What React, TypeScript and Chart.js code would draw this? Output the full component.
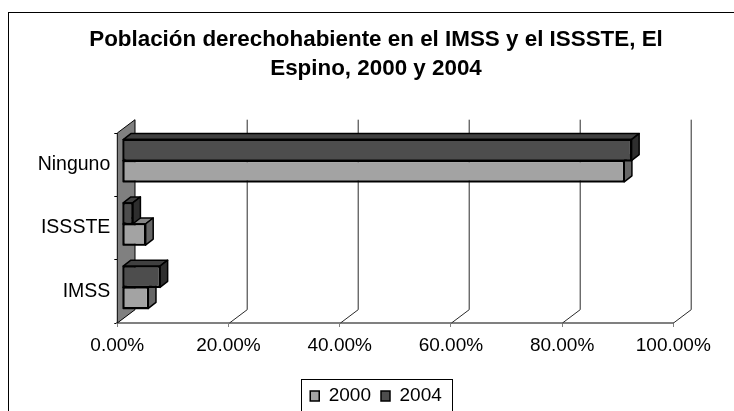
import React, { useEffect, useRef } from 'react';
import { Chart, registerables } from 'chart.js';

Chart.register(...registerables);

// ---- data ----
const categories = ['Ninguno', 'ISSSTE', 'IMSS'];
const seriesNames = ['2000', '2004'];
const values2000 = [0.902, 0.041, 0.046];
const values2004 = [0.915, 0.018, 0.067];
const xTickLabels = ['0.00%', '20.00%', '40.00%', '60.00%', '80.00%', '100.00%'];
const titleLines = ['Población derechohabiente en el IMSS y el ISSSTE, El', 'Espino, 2000 y 2004'];

const FONT = '"Liberation Sans", Arial, Helvetica, sans-serif';

// 3D look parameters (styling only)
const DEPTH_X = 17.7;
const DEPTH_Y = -13.3;
const BAR_SHIFT_X = 5.4;
const BAR_SHIFT_Y = -4;
const BAR_DX = 7.7;
const BAR_DY = -6;

const faceColors: Record<string, { top: string; side: string }> = {
  '2000': { top: '#858585', side: '#666666' },
  '2004': { top: '#404040', side: '#2e2e2e' },
};

const frame3d = {
  id: 'frame3d',
  beforeDraw(chart: any) {
    const { ctx, width, height } = chart;
    ctx.save();
    ctx.fillStyle = '#ffffff';
    ctx.fillRect(0, 0, width, height);
    ctx.strokeStyle = '#000000';
    ctx.lineWidth = 1;
    ctx.strokeRect(8.5, 12.5, width + 50, height + 50);
    ctx.restore();
  },
  beforeDatasetsDraw(chart: any) {
    const { ctx } = chart;
    const { left: L, top: T, bottom: B } = chart.chartArea;
    const xs = chart.scales.x;
    ctx.save();
    // side wall
    ctx.beginPath();
    ctx.moveTo(L, T);
    ctx.lineTo(L + DEPTH_X, T + DEPTH_Y);
    ctx.lineTo(L + DEPTH_X, B + DEPTH_Y);
    ctx.lineTo(L, B);
    ctx.closePath();
    ctx.fillStyle = '#808080';
    ctx.fill();
    ctx.strokeStyle = '#000000';
    ctx.lineWidth = 1;
    ctx.stroke();
    // grid lines on back wall and floor
    ctx.beginPath();
    xs.ticks.forEach((t: any) => {
      if (t.value <= 0) return;
      const x = Math.round(xs.getPixelForValue(t.value)) + 0.5;
      ctx.moveTo(x + DEPTH_X, T + DEPTH_Y);
      ctx.lineTo(x + DEPTH_X, B + DEPTH_Y);
      ctx.lineTo(x, B);
    });
    ctx.strokeStyle = '#2a2a2a';
    ctx.lineWidth = 1;
    ctx.stroke();
    ctx.restore();
    ctx.save();
    ctx.translate(BAR_SHIFT_X, BAR_SHIFT_Y);
  },
  afterDatasetDraw(chart: any, args: any) {
    const { ctx } = chart;
    const ds = chart.data.datasets[args.index];
    const fc = faceColors[ds.label];
    ctx.save();
    ctx.lineWidth = 1.5;
    ctx.lineJoin = 'round';
    ctx.strokeStyle = '#000000';
    args.meta.data.forEach((el: any) => {
      const p = el.getProps(['x', 'y', 'base', 'height'], true);
      const l = Math.min(p.x, p.base);
      const r = Math.max(p.x, p.base);
      const t = p.y - p.height / 2;
      const b = p.y + p.height / 2;
      // top face
      ctx.beginPath();
      ctx.moveTo(l, t);
      ctx.lineTo(l + BAR_DX, t + BAR_DY);
      ctx.lineTo(r + BAR_DX, t + BAR_DY);
      ctx.lineTo(r, t);
      ctx.closePath();
      ctx.fillStyle = fc.top;
      ctx.fill();
      ctx.stroke();
      // side face
      ctx.beginPath();
      ctx.moveTo(r, t);
      ctx.lineTo(r + BAR_DX, t + BAR_DY);
      ctx.lineTo(r + BAR_DX, b + BAR_DY);
      ctx.lineTo(r, b);
      ctx.closePath();
      ctx.fillStyle = fc.side;
      ctx.fill();
      ctx.stroke();
      // front outline
      ctx.strokeRect(l, t, r - l, b - t);
    });
    ctx.restore();
  },
  afterDatasetsDraw(chart: any) {
    chart.ctx.restore();
  },
  afterDraw(chart: any) {
    const lg = chart.legend;
    if (!lg || !lg.legendHitBoxes || !lg.legendHitBoxes.length) return;
    const hb = lg.legendHitBoxes;
    const first = hb[0];
    const last = hb[hb.length - 1];
    const left = Math.round(first.left - 9) + 0.5;
    const right = Math.round(last.left + last.width + 10) + 0.5;
    const top = Math.round(first.top - 8) + 0.5;
    const { ctx } = chart;
    ctx.save();
    ctx.strokeStyle = '#000000';
    ctx.lineWidth = 1;
    ctx.strokeRect(left, top, right - left, 60);
    ctx.restore();
  },
};

export default function App() {
  const ref = useRef<HTMLCanvasElement>(null);
  useEffect(() => {
    const canvas = ref.current;
    if (!canvas) return;
    Chart.defaults.font.family = FONT;
    const chart = new Chart(canvas, {
      type: 'bar',
      data: {
        labels: categories,
        datasets: [
          {
            label: seriesNames[1],
            data: values2004,
            backgroundColor: '#4d4d4d',
            borderColor: '#000000',
            borderWidth: 1.5,
            borderSkipped: false,
            xAxisID: 'x',
            yAxisID: 'y',
            clip: false,
          } as any,
          {
            label: seriesNames[0],
            data: values2000,
            backgroundColor: '#a3a3a3',
            borderColor: '#000000',
            borderWidth: 1.5,
            borderSkipped: false,
            xAxisID: 'x',
            yAxisID: 'y',
            clip: false,
          } as any,
        ],
      },
      plugins: [frame3d],
      options: {
        indexAxis: 'y',
        animation: false,
        responsive: false,
        devicePixelRatio: 1,
        layout: { padding: { left: 18, right: 0, top: 0, bottom: -4.5 } },
        datasets: { bar: { barPercentage: 1, categoryPercentage: 0.667 } },
        scales: {
          x: {
            type: 'linear',
            position: 'bottom',
            min: 0,
            max: 1,
            ticks: {
              stepSize: 0.2,
              color: '#000000',
              font: { size: 19, family: FONT },
              padding: 7,
              maxRotation: 0,
              callback: (_v: any, i: number) => xTickLabels[i],
            },
            grid: { display: true, drawOnChartArea: false, drawTicks: true, tickLength: 4, color: '#808080' },
            border: { display: true, color: '#808080', width: 2 },
            afterFit: (s: any) => { s.height = 53.5; },
          },
          y: {
            type: 'category',
            position: 'left',
            ticks: { color: '#000000', font: { size: 19.5, family: FONT }, padding: 4 },
            grid: { display: true, drawOnChartArea: false, drawTicks: true, tickLength: 3, color: '#000000', offset: true },
            border: { display: false },
            afterFit: (s: any) => { s.width = 99.3; },
          },
          y2: {
            type: 'linear',
            position: 'right',
            display: true,
            grid: { display: false },
            ticks: { display: false },
            border: { display: false },
            afterFit: (s: any) => { s.width = 60.7; },
          },
        } as any,
        plugins: {
          title: {
            display: true,
            text: titleLines,
            color: '#000000',
            font: { size: 22.4, weight: 'bold', family: FONT, lineHeight: 29 / 22.4 },
            padding: { top: 24.9, bottom: 50.1 },
          },
          legend: {
            display: true,
            position: 'bottom',
            reverse: true,
            labels: {
              color: '#000000',
              font: { size: 19, family: FONT },
              boxWidth: 9,
              boxHeight: 10,
              padding: 10,
            },
          },
          tooltip: { enabled: false },
        },
      } as any,
    });
    return () => chart.destroy();
  }, []);
  return (
    <div style={{ position: 'absolute', left: 0, top: 0, width: 734, height: 411, background: '#ffffff', overflow: 'hidden' }}>
      <canvas ref={ref} width={734} height={411} style={{ display: 'block', width: 734, height: 411 }} />
    </div>
  );
}
